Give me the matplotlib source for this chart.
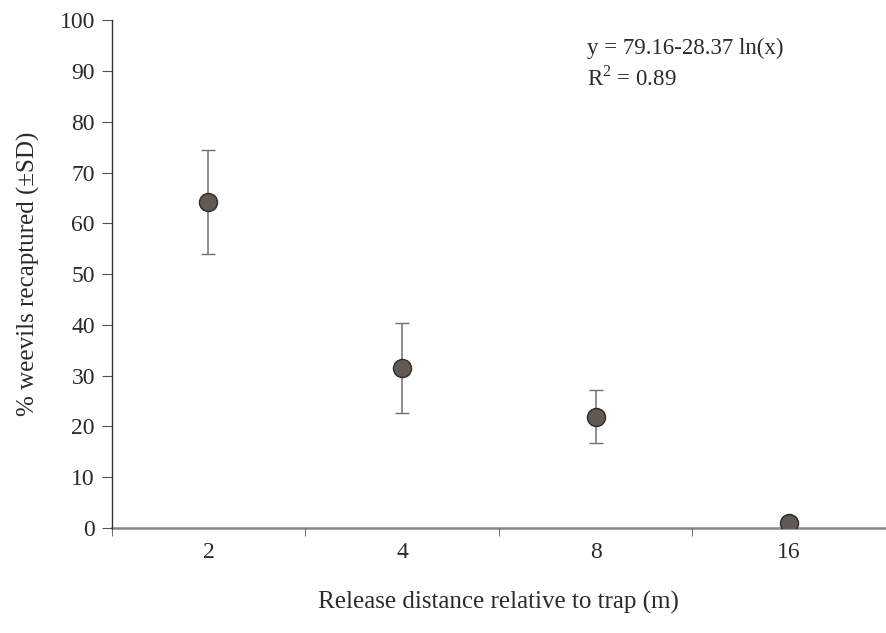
import matplotlib
matplotlib.use("Agg")
import matplotlib.pyplot as plt
import numpy as np

categories = ["2", "4", "8", "16"]
means = [64.2, 31.5, 21.9, 1.0]
sds = [10.3, 8.9, 5.2, 0.0]
yticks = list(range(0, 101, 10))
equation = "y = 79.16-28.37 ln(x)"
r2_text = "R$^2$ = 0.89"

plt.rcParams['font.family'] = ['Liberation Serif', 'DejaVu Serif']
plt.rcParams['mathtext.fontset'] = 'custom'
plt.rcParams['mathtext.rm'] = 'Liberation Serif'

fig = plt.figure(figsize=(8.86, 6.33), dpi=100)
ax = fig.add_axes([0.126, 0.166, 0.874, 0.802])

x = np.arange(len(categories))
ax.errorbar(x, means, yerr=sds, fmt='o', color='#4a4540', markersize=13,
            markerfacecolor='#5f5a55', markeredgecolor='#2e2a27', markeredgewidth=1,
            ecolor='#707070', elinewidth=1.1, capsize=5, capthick=1.1, zorder=3)

ax.set_ylim(0, 100)
ax.set_xlim(-0.5, 3.49)
ax.set_yticks(yticks)
ax.set_xticks(x)
ax.set_xticklabels(categories)
ax.set_xticks(np.arange(-0.5, 3.6, 1.0), minor=True)
ax.tick_params(axis='x', which='major', length=0, pad=10, labelsize=17, labelcolor='#2a2a2a')
ax.tick_params(axis='x', which='minor', length=6, direction='out', color='#555555')
ax.tick_params(axis='y', which='major', length=7, direction='out', labelsize=17,
               color='#555555', labelcolor='#2a2a2a', pad=5)

ax.spines['top'].set_visible(False)
ax.spines['right'].set_visible(False)
ax.spines['left'].set_color('#333333')
ax.spines['left'].set_linewidth(1.0)
ax.spines['bottom'].set_color('#888888')
ax.spines['bottom'].set_linewidth(1.8)
ax.spines['bottom'].set_zorder(1)

ax.set_xlabel("Release distance relative to trap (m)", fontsize=18, color='#2a2a2a', labelpad=20)
ax.set_ylabel("% weevils recaptured (±SD)", fontsize=18, color='#2a2a2a', labelpad=14)

ax.text(0.614, 0.965, equation, transform=ax.transAxes, fontsize=16.5,
        color='#2a2a2a', va='top', ha='left')
ax.text(0.614, 0.910, r2_text, transform=ax.transAxes, fontsize=16.5,
        color='#2a2a2a', va='top', ha='left')

fig.savefig("out.png", dpi=100)
